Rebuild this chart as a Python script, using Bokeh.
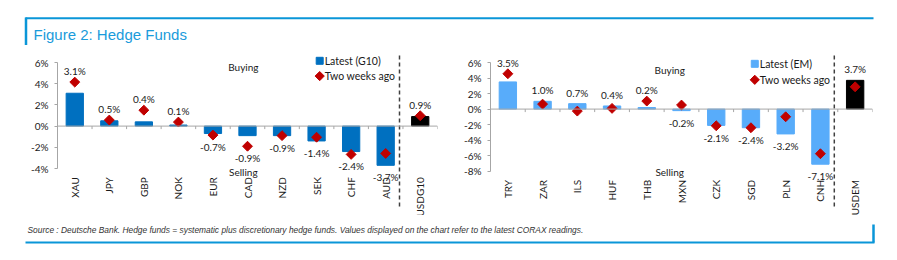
import math
from bokeh.plotting import figure
from bokeh.layouts import column, row
from bokeh.models import Range1d, FixedTicker, Span, ColumnDataSource, PrintfTickFormatter
from bokeh.core.properties import value
from bokeh.embed import file_html
from bokeh.resources import INLINE

# ---------------- data ----------------
g10_cats = ["XAU", "JPY", "GBP", "NOK", "EUR", "CAD", "NZD", "SEK", "CHF", "AUD", "USDG10"]
g10_latest = [3.1, 0.5, 0.4, 0.1, -0.7, -0.9, -0.9, -1.4, -2.4, -3.7, 0.9]
g10_prev = [4.15, 0.57, 1.5, 0.38, -0.85, -1.9, -0.9, -1.05, -2.67, -2.58, 0.98]
g10_ticks = [-4, -2, 0, 2, 4, 6]

em_cats = ["TRY", "ZAR", "ILS", "HUF", "THB", "MXN", "CZK", "SGD", "PLN", "CNH", "USDEM"]
em_latest = [3.5, 1.0, 0.7, 0.4, 0.2, -0.2, -2.1, -2.4, -3.2, -7.1, 3.7]
em_prev = [4.55, 0.64, -0.26, 0.09, 1.03, 0.52, -2.15, -2.4, -0.99, -5.75, 2.87]
em_ticks = [-8, -6, -4, -2, 0, 2, 4, 6]

title_text = "Figure 2: Hedge Funds"
source_text = ("Source : Deutsche Bank. Hedge funds = systematic plus discretionary hedge funds. "
               "Values displayed on the chart refer to the latest CORAX readings.")

# ---------------- style ----------------
FONT = "Lato"
BLUE_LINE = "#0A96D8"
AXIS_GRAY = "#A6A6A6"
RED = "#C00000"
TXT = "#1A1A1A"
MID_H = 170          # height of chart row
MID_TOP = 45         # page y of chart row top


def make_chart(cats, latest, prev, ticks, bar_color, legend_label,
               width, b_left, b_right, py_top, py_bot,
               leg_x, leg_y1, leg_y2, word_x, buy_y, sell_y):
    n = len(cats)
    v_top, v_bot = ticks[-1], ticks[0]
    k = (py_bot - py_top) / (v_top - v_bot)  # px per unit
    y_hi = v_top + (py_top - MID_TOP) / k
    y_lo = v_bot - (MID_TOP + MID_H - py_bot) / k

    p = figure(width=width, height=MID_H, x_range=Range1d(-0.5, n - 0.5),
               y_range=Range1d(y_lo, y_hi), x_axis_location=None,
               toolbar_location=None, output_backend="svg",
               min_border_left=b_left, min_border_right=b_right,
               min_border_top=0, min_border_bottom=0)
    p.outline_line_color = None
    p.xgrid.visible = False
    p.ygrid.visible = False
    p.background_fill_color = "white"
    p.border_fill_color = "white"

    idx = list(range(n))
    colors = [bar_color] * (n - 1) + ["#000000"]
    lab_y, lab_off = [], []
    for a, b in zip(latest, prev):
        if a >= 0:
            lab_y.append(max(a, b)); lab_off.append(-11)
        else:
            lab_y.append(min(a, b)); lab_off.append(12)
    src = ColumnDataSource(dict(x=idx, cat=cats, latest=latest, prev=prev, color=colors,
                                lab=[f"{v:.1f}%" for v in latest], lab_y=lab_y, lab_off=lab_off,
                                cat_y=[v_bot - 8.7 / k] * n))

    p.vbar(x="x", top="latest", bottom=0, width=0.5, color="color", source=src)
    p.add_layout(Span(location=0, dimension="width", line_color=AXIS_GRAY, line_width=1))
    p.ray(x=[i + 0.5 for i in idx], y=[0] * n, length=3, length_units="screen",
          angle=-math.pi / 2, line_color=AXIS_GRAY, line_width=1)
    # separator
    dash_x = n - 1.6
    p.segment(x0=[dash_x], y0=[v_top + (py_top - 55) / k], x1=[dash_x],
              y1=[v_bot - (207 - py_bot) / k], line_dash="4 3", line_color="#404040", line_width=1.5)
    p.scatter(x="x", y="prev", marker="square", angle=math.pi / 4, size=7,
              color=RED, source=src)
    p.text(x="x", y="lab_y", text="lab", y_offset="lab_off", text_align="center",
           text_baseline="middle", text_font=value(FONT), text_font_size="10px",
           text_color=TXT, source=src)
    p.text(x="x", y="cat_y", text="cat", angle=math.pi / 2, text_align="right",
           text_baseline="middle", text_font=value(FONT), text_font_size="10px",
           text_color=TXT, source=src)
    # Buying / Selling
    p.text(x=[word_x, word_x], y=[buy_y, sell_y], text=["Buying", "Selling"],
           text_align="center", text_baseline="middle", text_font=value(FONT),
           text_font_size="10px", text_color=TXT)
    # legend
    p.scatter(x=[leg_x], y=[leg_y1], marker="square", size=7, color=bar_color)
    p.scatter(x=[leg_x], y=[leg_y2], marker="square", angle=math.pi / 4, size=6.5, color=RED)
    p.text(x=[leg_x, leg_x], y=[leg_y1, leg_y2], text=[legend_label, "Two weeks ago"],
           x_offset=5, text_align="left", text_baseline="middle", text_font=value(FONT),
           text_font_size="10.5px", text_color=TXT)

    ax = p.yaxis[0]
    ax.bounds = (v_bot, v_top)
    ax.ticker = FixedTicker(ticks=ticks)
    ax.formatter = PrintfTickFormatter(format="%d%%")
    ax.axis_line_color = AXIS_GRAY
    ax.major_tick_line_color = AXIS_GRAY
    ax.major_tick_out = 3
    ax.major_tick_in = 0
    ax.minor_tick_line_color = None
    ax.major_label_standoff = 6
    ax.major_label_text_font = FONT
    ax.major_label_text_font_size = "10px"
    ax.major_label_text_color = TXT
    return p


left = make_chart(g10_cats, g10_latest, g10_prev, g10_ticks, "#0070C0", "Latest (G10)",
                  440, 57, 3, 62, 168,
                  7.09, 6.16, 4.72, 4.88, 5.57, -4.34)
right = make_chart(em_cats, em_latest, em_prev, em_ticks, "#58ACFA", "Latest (EM)",
                   457, 50, 25, 62, 170.7,
                   7.11, 5.83, 3.77, 4.66, 5.0, -8.1)


def deco(height):
    f = figure(width=897, height=height, x_range=Range1d(0, 897), y_range=Range1d(height, 0),
               x_axis_location=None, y_axis_location=None, toolbar_location=None,
               output_backend="svg", min_border=0)
    f.outline_line_color = None
    f.xgrid.visible = False
    f.ygrid.visible = False
    return f


header = deco(45)
header.segment(x0=[25], y0=[17.7], x1=[873], y1=[17.7], line_color=BLUE_LINE, line_width=2)
header.segment(x0=[25.5], y0=[17], x1=[25.5], y1=[45], line_color=BLUE_LINE, line_width=2.5)
header.text(x=[33], y=[34], text=[title_text], text_align="left", text_baseline="middle",
            text_font=value("Liberation Sans"), text_font_size="15px", text_color="#1A9BDB")

footer = deco(45)
footer.text(x=[27], y=[14], text=[source_text], text_align="left", text_baseline="middle",
            text_font=value("Liberation Sans"), text_font_size="8.4px", text_font_style="italic",
            text_color="#333333")
footer.segment(x0=[25], y0=[27], x1=[874], y1=[27], line_color=BLUE_LINE, line_width=2)
footer.segment(x0=[873], y0=[9], x1=[873], y1=[27], line_color=BLUE_LINE, line_width=2.5)

layout = column(header, row(left, right), footer)
open("out.html", "w").write(file_html(layout, INLINE))
